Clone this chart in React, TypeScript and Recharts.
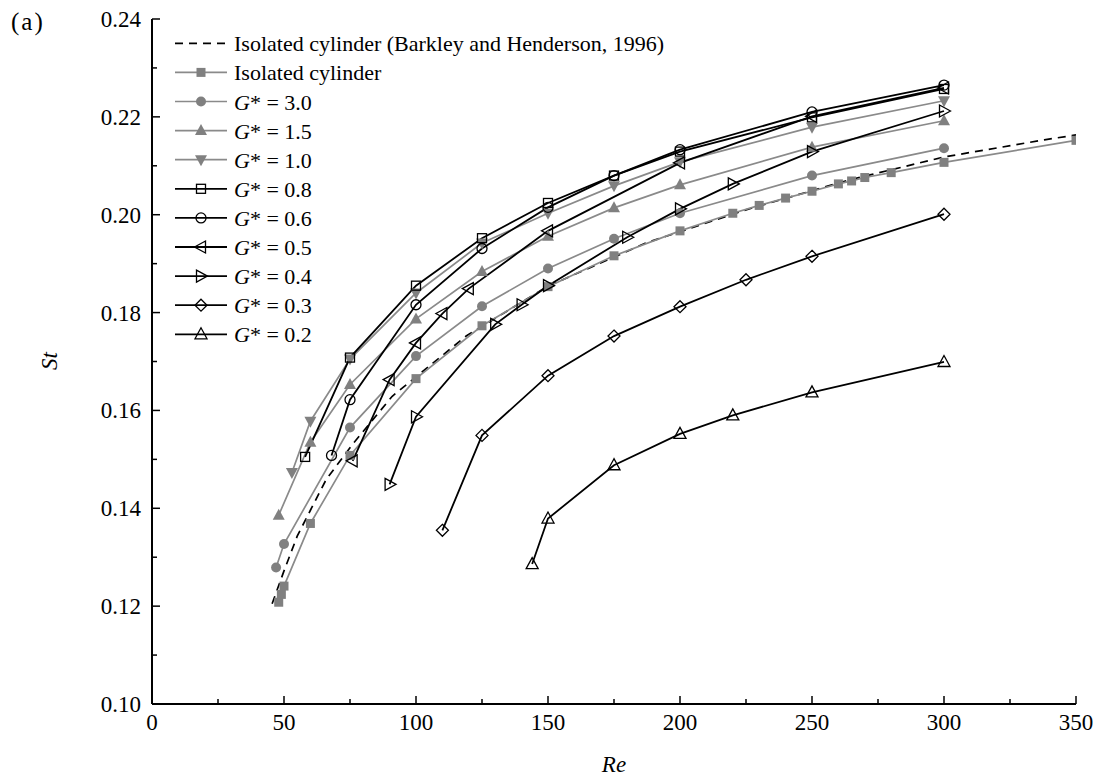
import React from 'react';
import { LineChart, Line, XAxis, YAxis, Legend } from 'recharts';

// ---------- data ----------
const barkleyRe = [45.5, 50, 55, 60, 66, 76, 91, 109, 119, 150, 187, 225, 264, 300, 338, 350];
const barkleySt = [0.1205, 0.1272, 0.1343, 0.1396, 0.1459, 0.1531, 0.1629, 0.1708, 0.1752, 0.1854, 0.1942, 0.2010, 0.2071, 0.2118, 0.2153, 0.2163];

const isoRe = [48, 49, 50, 60, 75, 100, 125, 150, 175, 200, 220, 230, 240, 250, 260, 265, 270, 280, 300, 350];
const isoSt = [0.1208, 0.1224, 0.1241, 0.1369, 0.1508, 0.1665, 0.1773, 0.1853, 0.1916, 0.1967, 0.2003, 0.2019, 0.2034, 0.2048, 0.2063, 0.2069, 0.2076, 0.2086, 0.2107, 0.2152];

const g30Re = [47, 50, 75, 100, 125, 150, 175, 200, 250, 300];
const g30St = [0.1279, 0.1327, 0.1565, 0.1711, 0.1813, 0.1890, 0.1951, 0.2003, 0.2080, 0.2136];

const g15Re = [48, 60, 75, 100, 125, 150, 175, 200, 250, 300];
const g15St = [0.1386, 0.1535, 0.1653, 0.1787, 0.1884, 0.1956, 0.2014, 0.2061, 0.2138, 0.2192];

const g10Re = [53, 60, 75, 100, 125, 150, 175, 200, 250, 300];
const g10St = [0.1473, 0.1578, 0.1705, 0.1840, 0.1942, 0.2003, 0.2059, 0.2108, 0.2179, 0.2233];

const g08Re = [58, 75, 100, 125, 150, 175, 200, 250, 300];
const g08St = [0.1505, 0.1708, 0.1855, 0.1952, 0.2024, 0.2080, 0.2129, 0.2199, 0.2257];

const g06Re = [68, 75, 100, 125, 150, 175, 200, 250, 300];
const g06St = [0.1508, 0.1622, 0.1816, 0.1931, 0.2015, 0.2080, 0.2133, 0.2210, 0.2265];

const g05Re = [76, 90, 100, 110, 120, 150, 200, 250, 300];
const g05St = [0.1497, 0.1663, 0.1738, 0.1798, 0.1849, 0.1967, 0.2106, 0.2201, 0.2259];

const g04Re = [90, 100, 130, 140, 150, 180, 200, 220, 250, 300];
const g04St = [0.1449, 0.1587, 0.1776, 0.1816, 0.1855, 0.1954, 0.2012, 0.2063, 0.2129, 0.2212];

const g03Re = [110, 125, 150, 175, 200, 225, 250, 300];
const g03St = [0.1355, 0.1549, 0.1671, 0.1752, 0.1812, 0.1867, 0.1915, 0.2001];

const g02Re = [144, 150, 175, 200, 220, 250, 300];
const g02St = [0.1286, 0.1379, 0.1488, 0.1552, 0.1590, 0.1637, 0.1699];

const xMajorTicks = [0, 50, 100, 150, 200, 250, 300, 350];
const xMinorTicks = [25, 75, 125, 175, 225, 275, 325];
const yMajorTicks = [0.10, 0.12, 0.14, 0.16, 0.18, 0.20, 0.22, 0.24];
const yMinorTicks = [0.11, 0.13, 0.15, 0.17, 0.19, 0.21, 0.23];

const legendLabels = [
  'Isolated cylinder (Barkley and Henderson, 1996)',
  'Isolated cylinder',
  '3.0', '1.5', '1.0', '0.8', '0.6', '0.5', '0.4', '0.3', '0.2',
];

// ---------- styling ----------
const FONT = '"Liberation Serif", "Times New Roman", serif';
const GRAY = '#808080';
const GRAY_LINE = '#8a8a8a';

const zip = (re: number[], st: number[]) => re.map((r, i) => ({ re: r, st: st[i] }));

type Kind = 'none' | 'square' | 'circle' | 'up' | 'down' | 'left' | 'right' | 'diamond';

interface Cfg {
  id: string;
  data: { re: number; st: number }[];
  kind: Kind;
  filled: boolean;
  line: string;
  dashed?: boolean;
  g?: boolean;
}

const series: Cfg[] = [
  { id: 'barkley', data: zip(barkleyRe, barkleySt), kind: 'none', filled: false, line: '#000', dashed: true },
  { id: 'iso', data: zip(isoRe, isoSt), kind: 'square', filled: true, line: GRAY_LINE },
  { id: 'g30', data: zip(g30Re, g30St), kind: 'circle', filled: true, line: GRAY_LINE, g: true },
  { id: 'g15', data: zip(g15Re, g15St), kind: 'up', filled: true, line: GRAY_LINE, g: true },
  { id: 'g10', data: zip(g10Re, g10St), kind: 'down', filled: true, line: GRAY_LINE, g: true },
  { id: 'g08', data: zip(g08Re, g08St), kind: 'square', filled: false, line: '#000', g: true },
  { id: 'g06', data: zip(g06Re, g06St), kind: 'circle', filled: false, line: '#000', g: true },
  { id: 'g05', data: zip(g05Re, g05St), kind: 'left', filled: false, line: '#000', g: true },
  { id: 'g04', data: zip(g04Re, g04St), kind: 'right', filled: false, line: '#000', g: true },
  { id: 'g03', data: zip(g03Re, g03St), kind: 'diamond', filled: false, line: '#000', g: true },
  { id: 'g02', data: zip(g02Re, g02St), kind: 'up', filled: false, line: '#000', g: true },
];

function Marker({ cx, cy, kind, filled }: { cx: number; cy: number; kind: Kind; filled: boolean }) {
  if (kind === 'none' || cx == null || cy == null || isNaN(cx) || isNaN(cy)) return <g />;
  const fill = filled ? GRAY : 'none';
  const stroke = filled ? 'none' : '#000';
  const sw = 1.3;
  const common = { fill, stroke, strokeWidth: sw };
  switch (kind) {
    case 'square':
      return <rect x={cx - 4.5} y={cy - 4.5} width={9} height={9} {...common} />;
    case 'circle':
      return <circle cx={cx} cy={cy} r={5} {...common} />;
    case 'up':
      return <polygon points={`${cx},${cy - 6.5} ${cx - 6},${cy + 4.5} ${cx + 6},${cy + 4.5}`} {...common} />;
    case 'down':
      return <polygon points={`${cx},${cy + 6.5} ${cx - 6},${cy - 4.5} ${cx + 6},${cy - 4.5}`} {...common} />;
    case 'left':
      return <polygon points={`${cx - 6.5},${cy} ${cx + 4.5},${cy - 6} ${cx + 4.5},${cy + 6}`} {...common} />;
    case 'right':
      return <polygon points={`${cx + 6.5},${cy} ${cx - 4.5},${cy - 6} ${cx - 4.5},${cy + 6}`} {...common} />;
    case 'diamond':
      return <polygon points={`${cx},${cy - 6} ${cx + 6},${cy} ${cx},${cy + 6} ${cx - 6},${cy}`} {...common} />;
    default:
      return <g />;
  }
}

const xTicks = [...xMajorTicks, ...xMinorTicks].sort((a, b) => a - b);
const yTicks = [...yMajorTicks, ...yMinorTicks].sort((a, b) => a - b);
const isXMajor = (v: number) => xMajorTicks.includes(v);
const isYMajor = (v: number) => yMajorTicks.some((t) => Math.abs(t - v) < 1e-6);

const BottomTick = (p: any) => {
  const { x, y, payload } = p;
  const major = isXMajor(payload.value);
  return (
    <g>
      <line x1={x} x2={x} y1={y} y2={y - (major ? 8 : 5)} stroke="#000" strokeWidth={1.5} />
      {major && (
        <text x={x} y={y + 26} textAnchor="middle" fontFamily={FONT} fontSize={23} fill="#000">
          {payload.value}
        </text>
      )}
    </g>
  );
};

const TopTick = (p: any) => {
  const { x, y, payload } = p;
  const major = isXMajor(payload.value);
  return <line x1={x} x2={x} y1={y} y2={y + (major ? 8 : 5)} stroke="#000" strokeWidth={1.5} />;
};

const LeftTick = (p: any) => {
  const { x, y, payload } = p;
  const major = isYMajor(payload.value);
  return (
    <g>
      <line x1={x} x2={x + (major ? 8 : 5)} y1={y} y2={y} stroke="#000" strokeWidth={1.5} />
      {major && (
        <text x={x - 11} y={y + 8} textAnchor="end" fontFamily={FONT} fontSize={23} fill="#000">
          {Number(payload.value).toFixed(2)}
        </text>
      )}
    </g>
  );
};

const RightTick = (p: any) => {
  const { x, y, payload } = p;
  const major = isYMajor(payload.value);
  return <line x1={x} x2={x - (major ? 8 : 5)} y1={y} y2={y} stroke="#000" strokeWidth={1.5} />;
};

const LegendContent = () => {
  const rowH = 29.1;
  return (
    <svg width={560} height={330} style={{ display: 'block', overflow: 'visible' }}>
      {series.map((s, i) => {
        const cy = 15.3 + rowH * i;
        const label = legendLabels[i];
        return (
          <g key={s.id}>
            <line
              x1={5}
              x2={57}
              y1={cy}
              y2={cy}
              stroke={s.line}
              strokeWidth={s.dashed ? 1.7 : s.line === '#000' ? 1.8 : 1.7}
              strokeDasharray={s.dashed ? '8 6' : undefined}
            />
            <Marker cx={31} cy={cy} kind={s.kind} filled={s.filled} />
            <text x={64} y={cy + 8} fontFamily={FONT} fontSize={22} fill="#000">
              {s.g ? (
                <>
                  <tspan fontStyle="italic">G</tspan>
                  <tspan>{`* = ${label}`}</tspan>
                </>
              ) : (
                label
              )}
            </text>
          </g>
        );
      })}
    </svg>
  );
};

export default function App() {
  return (
    <div style={{ position: 'absolute', left: 0, top: 0, width: 1099, height: 778, background: '#fff' }}>
      <LineChart width={1099} height={778} margin={{ top: 19, right: 23, bottom: 0, left: 0 }}>
        <XAxis
          xAxisId="b"
          dataKey="re"
          type="number"
          domain={[0, 350]}
          ticks={xTicks}
          interval={0}
          height={74}
          tickSize={0}
          tickMargin={0}
          tickLine={false}
          tick={<BottomTick />}
          axisLine={{ stroke: '#000', strokeWidth: 2 }}
          allowDataOverflow
        />
        <XAxis
          xAxisId="t"
          orientation="top"
          type="number"
          domain={[0, 350]}
          ticks={xTicks}
          interval={0}
          height={0}
          tickSize={0}
          tickMargin={0}
          tickLine={false}
          tick={<TopTick />}
          axisLine={{ stroke: '#000', strokeWidth: 2 }}
          allowDataOverflow
        />
        <YAxis
          yAxisId="l"
          type="number"
          domain={[0.1, 0.24]}
          ticks={yTicks}
          interval={0}
          width={152}
          tickSize={0}
          tickMargin={0}
          tickLine={false}
          tick={<LeftTick />}
          axisLine={{ stroke: '#000', strokeWidth: 2 }}
          allowDataOverflow
        />
        <YAxis
          yAxisId="r"
          orientation="right"
          type="number"
          domain={[0.1, 0.24]}
          ticks={yTicks}
          interval={0}
          width={0}
          tickSize={0}
          tickMargin={0}
          tickLine={false}
          tick={<RightTick />}
          axisLine={{ stroke: '#000', strokeWidth: 2 }}
          allowDataOverflow
        />
        <Legend
          layout="horizontal"
          verticalAlign="middle"
          align="center"
          wrapperStyle={{ left: 170, top: 28, width: 560, height: 330 }}
          content={<LegendContent />}
        />
        {series.map((s) => (
          <Line
            key={s.id}
            xAxisId="b"
            yAxisId="l"
            data={s.data}
            dataKey="st"
            type="linear"
            stroke={s.line}
            strokeWidth={s.dashed ? 1.7 : s.line === '#000' ? 1.8 : 1.7}
            strokeDasharray={s.dashed ? '8 6' : undefined}
            isAnimationActive={false}
            activeDot={false}
            dot={
              s.kind === 'none'
                ? false
                : (props: any) => (
                    <Marker key={`${s.id}-${props.index}`} cx={props.cx} cy={props.cy} kind={s.kind} filled={s.filled} />
                  )
            }
          />
        ))}
      </LineChart>
      <svg
        width={1099}
        height={778}
        style={{ position: 'absolute', left: 0, top: 0, pointerEvents: 'none' }}
      >
        <text x={11} y={30} fontFamily={FONT} fontSize={25} letterSpacing={2} fill="#000">(a)</text>
        <text x={614} y={772} textAnchor="middle" fontFamily={FONT} fontSize={23} fontStyle="italic" fill="#000">
          Re
        </text>
        <text
          x={57}
          y={361}
          textAnchor="middle"
          fontFamily={FONT}
          fontSize={23}
          fontStyle="italic"
          fill="#000"
          transform="rotate(-90 57 361)"
        >
          St
        </text>
      </svg>
    </div>
  );
}
